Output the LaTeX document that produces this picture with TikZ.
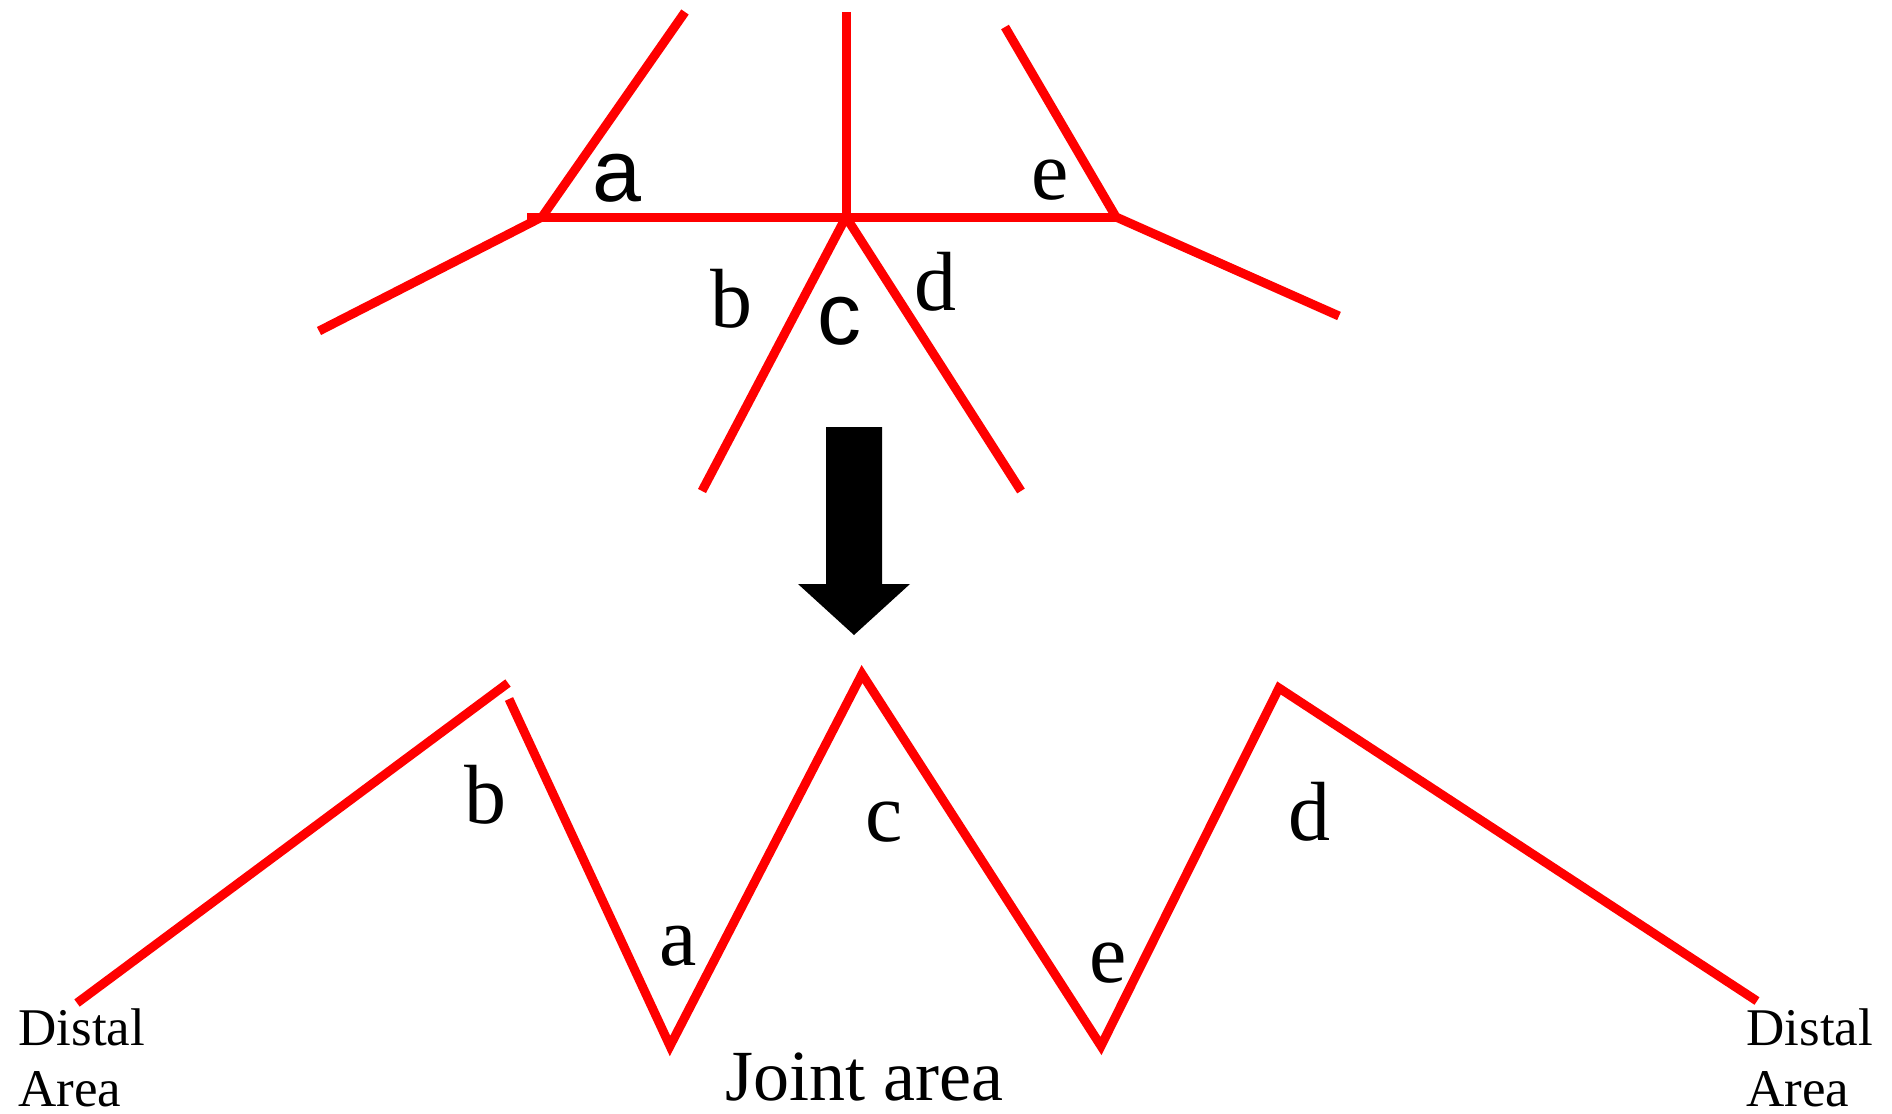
\documentclass[tikz,border=0pt]{standalone}
\usepackage{fontspec}
\setmainfont{Liberation Serif}
\newfontfamily\sansfnt{Liberation Sans}
\definecolor{fold}{RGB}{255,0,0}
\tikzset{crease/.style={line width=4.5pt,fold},
  lbl/.style={font=\fontsize{42}{48}\selectfont,inner sep=0pt},
  slbl/.style={font=\sansfnt\fontsize{44}{50}\selectfont,inner sep=0pt},
  areatext/.style={font=\fontsize{26.5}{30.5}\selectfont,align=left,inner sep=0pt,anchor=north west}}

\begin{document}
\begin{tikzpicture}[x=0.5pt,y=-0.5pt]
\useasboundingbox (0,0) rectangle (1892,1114);
% top: the vertex with its creases
\coordinate (L) at (542,217);
\coordinate (C) at (846,217);
\coordinate (R) at (1116,217);
\coordinate (hstub) at (527,217);
\coordinate (lup) at (685,12);
\coordinate (llow) at (319,331);
\coordinate (cup) at (846,12);
\coordinate (cleft) at (702,491);
\coordinate (cright) at (1021,491);
\coordinate (rup) at (1005,27);
\coordinate (rlow) at (1339,316);
\draw[crease] (hstub) -- (R);
\draw[crease] (lup) -- (L) -- (llow);
\draw[crease] (cup) -- (C);
\draw[crease] (cleft) -- (C) -- (cright);
\draw[crease] (rup) -- (R) -- (rlow);
\node[slbl] (ta) at (617,178) {a};
\node[slbl] (tc) at (839,321) {c};
\foreach \n/\px/\py in {b/731/299,d/935/282,e/1050/180}
  \node[lbl] (t\n) at (\px,\py) {\n};
% arrow
\coordinate (arr) at (854,427);
\fill[black] (arr) ++(-28,0) -- ++(56,0) -- ++(0,157) -- ++(28,0) -- ++(-56,51)
  -- ++(-56,-51) -- ++(28,0) -- cycle;
% bottom: unfolded zigzag
\coordinate (dl) at (77,1003);
\coordinate (pb) at (508,683);
\coordinate (pb2) at (509,699);
\coordinate (va) at (670,1046);
\coordinate (pc) at (862,674);
\coordinate (ve) at (1101,1046);
\coordinate (pd) at (1279,688);
\coordinate (dr) at (1757,1001);
\draw[crease] (dl) -- (pb);
\draw[crease] (pb2) -- (va) -- (pc) -- (ve) -- (pd) -- (dr);
\foreach \n/\px/\py in {a/678/946,b/485/795,c/884/822,d/1309/812,e/1108/963}
  \node[lbl] (b\n) at (\px,\py) {\n};
\node[areatext] (distL) at (18,1008) {Distal\\Area};
\node[areatext] (distR) at (1746,1008) {Distal\\Area};
\node[font=\fontsize{36}{42}\selectfont,inner sep=0pt,anchor=base] (joint) at (864,1100) {Joint area};
\end{tikzpicture}
\end{document}
